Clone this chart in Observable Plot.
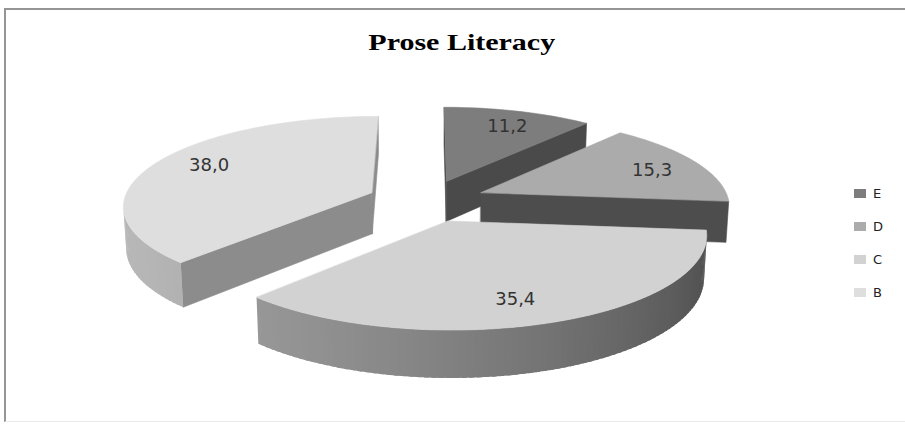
<!DOCTYPE html>
<html>
<head>
<meta charset="utf-8">
<script src="https://cdn.jsdelivr.net/npm/d3@7"></script>
<script src="https://cdn.jsdelivr.net/npm/@observablehq/plot@0.6"></script>
<style>
  html, body { margin: 0; padding: 0; background: #fff; }
  #chart { position: relative; width: 905px; height: 424px; overflow: hidden; }
  #chart svg { position: absolute; left: 0; top: 0; }
  #frame { position: absolute; left: 4px; top: 8px; width: 1000px; height: 411px;
           border-left: 2px solid #959595; border-top: 2px solid #959595; border-bottom: 1px solid #ececec; }
  #title { position: absolute; left: 0; top: 29px; width: 924px; text-align: center; }
  #title span { display: inline-block; font: bold 24px "Liberation Serif", "Times New Roman", serif;
                color: #000; transform: scaleX(1.25); }
  #legend { position: absolute; left: 854px; top: 177px; font: 13px "DejaVu Sans", sans-serif; color: #222; }
  .item { display: flex; align-items: center; height: 33px; }
  .sw { width: 12px; height: 9px; margin-right: 7px; }
</style>
</head>
<body>
<div id="chart">
  <div id="frame"></div>
  <div id="title"><span>Prose Literacy</span></div>
  <div id="legend"></div>
</div>
<script>
// Prose literacy levels (percent)
const categories = ["E", "D", "C", "B"];
const values = [11.2, 15.3, 35.4, 38.0];
const valueLabels = ["11,2", "15,3", "35,4", "38,0"];

// Grey tones: top face, flat cut faces, curved outer wall
const topGray = { E: 125, D: 171, C: 210, B: 222 };
const cutTone = { E: 0.59, D: 0.45, C: 0.6, B: 0.63 };
const wallTone = { E: 0.9, D: 0.8, C: 0.88, B: 0.98 };

const W = 905, H = 424;
const CX = 426, CY = 200, S = 248;      // screen centre and pixels per radius
const elev = 0.365;                       // viewing elevation (radians)
const camDist = 7;                        // camera distance in radii
const thick = 0.18, explode = 0.24;
const labelRadius = 0.78, labelFrac = 0.53;

const cosE = Math.cos(elev), sinE = Math.sin(elev);
const cam = [0, camDist * cosE, camDist * sinE];

function project([X, Y, Z]) {
  const depth = -Y * cosE - Z * sinE;
  const up = -Y * sinE + Z * cosE;
  const s = camDist / (camDist + depth);
  return [X * s, up * s];
}
const gray = v => { const g = Math.max(0, Math.min(255, Math.round(v))); return `rgb(${g},${g},${g})`; };
const wallShade = az => 0.62 + 0.22 * Math.cos(az - 250 * Math.PI / 180);

// slices clockwise from 12 o'clock
const total = d3.sum(values);
let acc = 0;
const slices = categories.map((c, i) => {
  const a0 = acc / total * 2 * Math.PI;
  acc += values[i];
  const a1 = acc / total * 2 * Math.PI;
  const mid = (a0 + a1) / 2;
  return { c, i, a0, a1, mid, ox: explode * Math.sin(mid), oy: -explode * Math.cos(mid) };
});

const rows = [];
const labelRows = [];
let faceId = 0;
function addFace(poly, normal, fill, edge) {
  const p = poly[0];
  const v = [cam[0] - p[0], cam[1] - p[1], cam[2] - p[2]];
  if (normal[0] * v[0] + normal[1] * v[1] + normal[2] * v[2] <= 0) return;
  const id = faceId++;
  poly.forEach(pt => { const [x, y] = project(pt); rows.push({ face: id, x, y, fill, edge }); });
}

slices.slice().sort((a, b) => a.oy - b.oy).forEach(sl => {
  const { ox, oy, c } = sl;
  const rim = (t, z) => [ox + Math.sin(t), oy - Math.cos(t), z];
  const ctr = z => [ox, oy, z];
  const base = topGray[c];
  // flat cut faces along the two radii
  [[sl.a0, -1], [sl.a1, 1]].forEach(([t, sgn]) => {
    const az = t + sgn * Math.PI / 2;
    const col = gray(base * cutTone[c]);
    addFace([ctr(0), rim(t, 0), rim(t, -thick), ctr(-thick)],
            [Math.sin(az), -Math.cos(az), 0], col, col);
  });
  // curved outer wall in thin overlapping strips
  const n = Math.max(2, Math.ceil((sl.a1 - sl.a0) / (Math.PI / 120)));
  const step = (sl.a1 - sl.a0) / n;
  for (let k = 0; k < n; k++) {
    const t0 = sl.a0 + k * step, t1 = Math.min(sl.a1, t0 + step * 1.6), tm = t0 + step / 2;
    addFace([rim(t0, 0), rim(t1, 0), rim(t1, -thick), rim(t0, -thick)],
            [Math.sin(tm), -Math.cos(tm), 0], gray(base * wallTone[c] * wallShade(tm)), "none");
  }
  // top face
  const ts = d3.range(n + 1).map(k => sl.a0 + k * step);
  addFace([ctr(0), ...ts.map(t => rim(t, 0))], [0, 0, 1], gray(base), gray(base));
  const ta = sl.a0 + labelFrac * (sl.a1 - sl.a0);
  const [lx, ly] = project([ox + labelRadius * Math.sin(ta), oy - labelRadius * Math.cos(ta), 0]);
  labelRows.push({ x: lx, y: ly, text: valueLabels[sl.i] });
});

const plot = Plot.plot({
  width: W, height: H,
  margin: 0,
  x: { domain: [-CX / S, (W - CX) / S], range: [0, W], axis: null },
  y: { domain: [(CY - H) / S, CY / S], range: [H, 0], axis: null },
  marks: [
    Plot.line(rows, { x: "x", y: "y", z: "face", fill: "fill", stroke: "edge", strokeWidth: 0.6, curve: "linear-closed" }),
    Plot.text(labelRows, { x: "x", y: "y", text: "text", fontSize: 18, fontFamily: "DejaVu Sans", fill: "#333" })
  ]
});
plot.style.background = "transparent";
document.getElementById("chart").prepend(plot);

const legend = document.getElementById("legend");
categories.forEach(c => {
  const item = document.createElement("div");
  item.className = "item";
  const sw = document.createElement("div");
  sw.className = "sw";
  sw.style.background = gray(topGray[c]);
  const tx = document.createElement("span");
  tx.textContent = c;
  item.append(sw, tx);
  legend.append(item);
});
</script>
</body>
</html>
